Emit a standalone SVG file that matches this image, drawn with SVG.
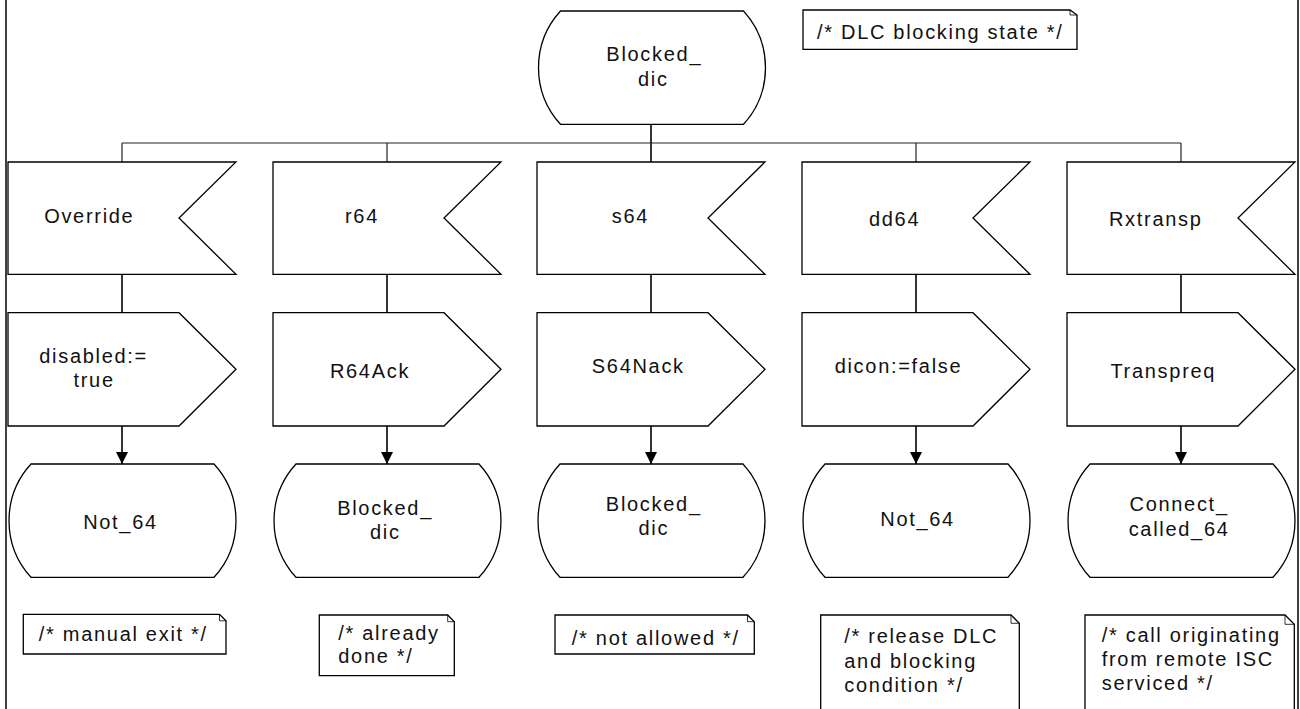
<svg xmlns="http://www.w3.org/2000/svg" xmlns:xlink="http://www.w3.org/1999/xlink" width="1300" height="709" viewBox="0 0 1300 709">
<style>
.shape{fill:#fff;stroke:#000;stroke-width:1.3}
.fold{fill:none;stroke:#000;stroke-width:0.8}
.conn{fill:none;stroke:#000;stroke-width:1.6}
.bus{fill:none;stroke:#222;stroke-width:1.2}
.frame{fill:none;stroke:#000;stroke-width:1.5}
text{font-family:"Liberation Sans",Arial,sans-serif;font-size:20px;letter-spacing:1.7px;fill:#111}
.c{text-anchor:middle}
</style>
<defs>
<path id="sig" d="M-114,0 H114 L57,56 L114,112.3 H-114 Z"/>
<path id="out" d="M-114,0 H57 L114,56.6 L57,113.3 H-114 Z"/>
<path id="st" d="M-91.5,0 H91.5 A84 84 0 0 1 91.5,113.3 H-91.5 A84 84 0 0 1 -91.5,0 Z"/>
<marker id="arr" markerUnits="userSpaceOnUse" markerWidth="13" markerHeight="13" refX="12" refY="6" orient="auto">
<path d="M0,0 L12,6 L0,12 Z" fill="#000"/>
</marker>
</defs>

<g id="frame">
<line class="frame" x1="6" y1="0" x2="6" y2="709"/>
<line class="frame" x1="1298" y1="0" x2="1298" y2="709"/>
</g>

<g id="connectors">
<line class="conn" x1="651" y1="124" x2="651" y2="162"/>
<line class="bus" x1="122" y1="143" x2="1181" y2="143"/>
<line class="bus" x1="122" y1="143" x2="122" y2="162"/>
<line class="bus" x1="387" y1="143" x2="387" y2="162"/>
<line class="bus" x1="916" y1="143" x2="916" y2="162"/>
<line class="bus" x1="1181" y1="143" x2="1181" y2="162"/>
<line class="conn" x1="122" y1="274" x2="122" y2="313"/>
<line class="conn" x1="387" y1="274" x2="387" y2="313"/>
<line class="conn" x1="651" y1="274" x2="651" y2="313"/>
<line class="conn" x1="916" y1="274" x2="916" y2="313"/>
<line class="conn" x1="1181" y1="274" x2="1181" y2="313"/>
<line class="conn" x1="122" y1="426" x2="122" y2="464" marker-end="url(#arr)"/>
<line class="conn" x1="387" y1="426" x2="387" y2="464" marker-end="url(#arr)"/>
<line class="conn" x1="651" y1="426" x2="651" y2="464" marker-end="url(#arr)"/>
<line class="conn" x1="916" y1="426" x2="916" y2="464" marker-end="url(#arr)"/>
<line class="conn" x1="1181" y1="426" x2="1181" y2="464" marker-end="url(#arr)"/>
</g>

<g id="state_top">
<use xlink:href="#st" href="#st" class="shape" x="652" y="11"/>
<text class="c" x="654.3" y="61">Blocked_</text>
<text class="c" x="653.3" y="86">dic</text>
</g>
<g id="comment_top">
<path class="shape" d="M803,10 H1070 L1077,15 V49.3 H803 Z"/>
<path class="fold" d="M1070,10 V15 H1077"/>
<text x="817" y="39.3">/* DLC blocking state */</text>
</g>

<g id="sig_override">
<use xlink:href="#sig" href="#sig" class="shape" x="122" y="162"/>
<text class="c" x="89.3" y="223.3">Override</text>
</g>
<g id="sig_r64">
<use xlink:href="#sig" href="#sig" class="shape" x="387" y="162"/>
<text class="c" x="362" y="222.7">r64</text>
</g>
<g id="sig_s64">
<use xlink:href="#sig" href="#sig" class="shape" x="651" y="162"/>
<text class="c" x="630.5" y="222.7">s64</text>
</g>
<g id="sig_dd64">
<use xlink:href="#sig" href="#sig" class="shape" x="916" y="162"/>
<text class="c" x="894.6" y="226">dd64</text>
</g>
<g id="sig_rxtransp">
<use xlink:href="#sig" href="#sig" class="shape" x="1181" y="162"/>
<text class="c" x="1155.8" y="226">Rxtransp</text>
</g>

<g id="out_disabled">
<use xlink:href="#out" href="#out" class="shape" x="122" y="312.7"/>
<text class="c" x="93.6" y="363.3">disabled:=</text>
<text class="c" x="94.1" y="387.3">true</text>
</g>
<g id="out_r64ack">
<use xlink:href="#out" href="#out" class="shape" x="387" y="312.7"/>
<text class="c" x="370" y="378.3">R64Ack</text>
</g>
<g id="out_s64nack">
<use xlink:href="#out" href="#out" class="shape" x="651" y="312.7"/>
<text class="c" x="638.3" y="373.3">S64Nack</text>
</g>
<g id="out_dicon">
<use xlink:href="#out" href="#out" class="shape" x="916" y="312.7"/>
<text class="c" x="898.5" y="373.3">dicon:=false</text>
</g>
<g id="out_transpreq">
<use xlink:href="#out" href="#out" class="shape" x="1181" y="312.7"/>
<text class="c" x="1163.3" y="378.3">Transpreq</text>
</g>

<g id="state_not64_1">
<use xlink:href="#st" href="#st" class="shape" x="122.5" y="464"/>
<text class="c" x="120.5" y="529.3">Not_64</text>
</g>
<g id="state_blocked_2">
<use xlink:href="#st" href="#st" class="shape" x="387.5" y="464"/>
<text class="c" x="385.1" y="515">Blocked_</text>
<text class="c" x="385.3" y="539">dic</text>
</g>
<g id="state_blocked_3">
<use xlink:href="#st" href="#st" class="shape" x="651.5" y="464"/>
<text class="c" x="653.8" y="511">Blocked_</text>
<text class="c" x="653.8" y="535">dic</text>
</g>
<g id="state_not64_4">
<use xlink:href="#st" href="#st" class="shape" x="916.5" y="464"/>
<text class="c" x="917.6" y="526">Not_64</text>
</g>
<g id="state_connect_5">
<use xlink:href="#st" href="#st" class="shape" x="1181.5" y="464"/>
<text class="c" x="1179.1" y="511">Connect_</text>
<text class="c" x="1179.1" y="536">called_64</text>
</g>

<g id="comment_1">
<path class="shape" d="M23.3,614.3 H219.5 L226,620.8 V654 H23.3 Z"/>
<path class="fold" d="M219.5,614.3 V620.8 H226"/>
<text class="c" x="123.3" y="641">/* manual exit */</text>
</g>
<g id="comment_2">
<path class="shape" d="M319.3,615 H447.7 L454.3,621.7 V675.7 H319.3 Z"/>
<path class="fold" d="M447.7,615 V621.7 H454.3"/>
<text x="338.3" y="640">/* already</text>
<text x="338.3" y="663.3">done */</text>
</g>
<g id="comment_3">
<path class="shape" d="M555,615 H747.5 L754.3,621.7 V654 H555 Z"/>
<path class="fold" d="M747.5,615 V621.7 H754.3"/>
<text class="c" x="655.8" y="644.5">/* not allowed */</text>
</g>
<g id="comment_4">
<path class="shape" d="M820.7,615 H1011 L1019.3,623.3 V720 H820.7 Z"/>
<path class="fold" d="M1011,615 V623.3 H1019.3"/>
<text x="844.3" y="643.3">/* release DLC</text>
<text x="844.3" y="667.7">and blocking</text>
<text x="844.3" y="691.7">condition */</text>
</g>
<g id="comment_5">
<path class="shape" d="M1085,615 H1285 L1294.3,624.3 V720 H1085 Z"/>
<path class="fold" d="M1285,615 V624.3 H1294.3"/>
<text x="1101.7" y="642">/* call originating</text>
<text x="1101.7" y="666.3">from remote ISC</text>
<text x="1101.7" y="690.3">serviced */</text>
</g>
</svg>
